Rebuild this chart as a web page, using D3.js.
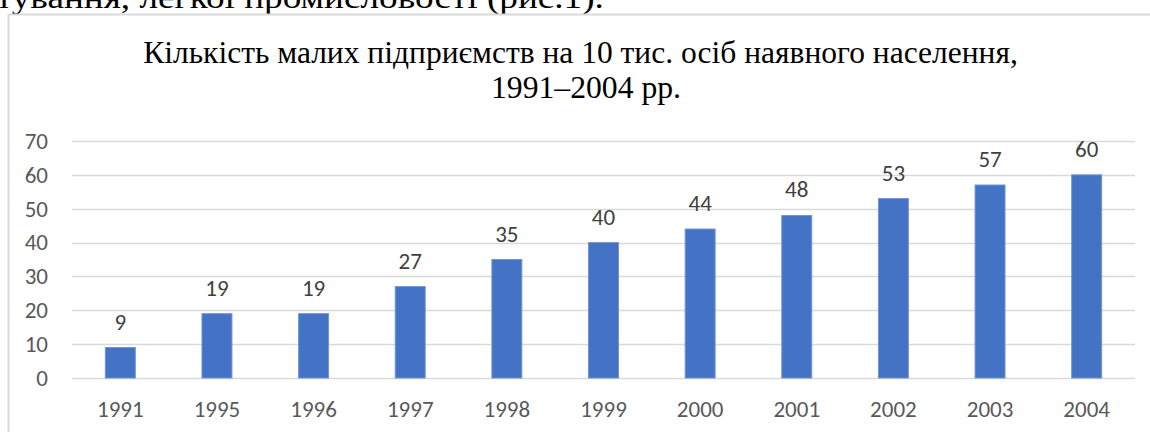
<!DOCTYPE html>
<html>
<head>
<meta charset="utf-8">
<script src="https://cdn.jsdelivr.net/npm/d3@7"></script>
<style>
  body { margin: 0; background: #fff; }
  svg { display: block; }
</style>
</head>
<body>
<svg id="chart" width="1150" height="432"></svg>
<script>
//Chart data
var years = ["1991", "1995", "1996", "1997", "1998", "1999", "2000", "2001", "2002", "2003", "2004"];
var values = [9, 19, 19, 27, 35, 40, 44, 48, 53, 57, 60];
var yTicks = [0, 10, 20, 30, 40, 50, 60, 70];
var titleLines = ["Кількість малих підприємств на 10 тис. осіб наявного населення,", "1991–2004 рр."];
var pageText = "тування, легкої промисловості (рис.1).";

var serif = "'Liberation Serif'";
var sans = "'Carlito', 'Calibri', 'DejaVu Sans', sans-serif";

var svg = d3.select("#chart");

//Squeezes a text horizontally so it spans the wanted width
function fitWidth(sel, cx, cy, w) {
  var natural = sel.node().getComputedTextLength();
  sel.attr("x", 0).attr("y", 0)
    .attr("transform", "translate(" + cx + "," + cy + ") scale(" + (w / natural) + ",1)");
}

//Cut-off line of the surrounding document text
var page = svg.append("text")
  .style("font-family", serif).style("font-size", "31px")
  .attr("fill", "#000")
  .text(pageText);
fitWidth(page, -4, 8, 608);

//Chart frame (only left and top edges visible)
svg.append("path")
  .attr("d", "M8.5,440V14.5H1160")
  .attr("fill", "none")
  .attr("stroke", "#d9d9d9")
  .attr("stroke-width", 2);

//Title
var titleSpec = [{y: 63, w: 875, cx: 580.5}, {y: 98, w: 190, cx: 586}];
svg.selectAll(".title").data(titleLines).enter().append("text")
  .attr("class", "title")
  .attr("text-anchor", "middle")
  .style("font-family", serif).style("font-size", "31px")
  .attr("fill", "#000")
  .text(function(d) { return d; })
  .each(function(d, i) {
    fitWidth(d3.select(this), titleSpec[i].cx, titleSpec[i].y, titleSpec[i].w);
  });

//Scales
var x = d3.scaleBand().domain(years).range([72, 1135]).paddingInner(0.69).paddingOuter(0.345);
var y = d3.scaleLinear().domain([0, 70]).range([378, 141]);

//Gridlines
svg.selectAll(".grid").data(yTicks).enter().append("line")
  .attr("x1", 72).attr("x2", 1135)
  .attr("y1", function(d) { return Math.round(y(d)) + 0.5; })
  .attr("y2", function(d) { return Math.round(y(d)) + 0.5; })
  .attr("stroke", "#d9d9d9")
  .attr("stroke-width", 1.5);

//Y axis labels
var yAxis = d3.axisLeft(y).tickValues(yTicks).tickSize(0).tickPadding(0);
var yg = svg.append("g").attr("transform", "translate(48,0)").call(yAxis);
yg.select(".domain").remove();
yg.selectAll("text")
  .style("font-family", sans).style("font-size", "23px")
  .attr("fill", "#595959");

//X axis labels
var xAxis = d3.axisBottom(x).tickSize(0).tickPadding(0);
var xg = svg.append("g").attr("transform", "translate(0,401)").call(xAxis);
xg.select(".domain").remove();
xg.selectAll("text")
  .style("font-family", sans).style("font-size", "23px")
  .attr("fill", "#595959");

//Bars
svg.selectAll(".bar").data(values).enter().append("rect")
  .attr("class", "bar")
  .attr("x", function(d, i) { return x(years[i]); })
  .attr("y", function(d) { return y(d); })
  .attr("width", x.bandwidth())
  .attr("height", function(d) { return y(0) - y(d); })
  .attr("fill", "#4472c4")
  .attr("stroke", "#6f95d6")
  .attr("stroke-width", 1);

//Data labels
svg.selectAll(".lbl").data(values).enter().append("text")
  .attr("class", "lbl")
  .attr("x", function(d, i) { return x(years[i]) + x.bandwidth() / 2; })
  .attr("y", function(d) { return y(d) - 18; })
  .attr("text-anchor", "middle")
  .style("font-family", sans).style("font-size", "23px")
  .attr("fill", "#404040")
  .text(function(d) { return d; });
</script>
</body>
</html>
